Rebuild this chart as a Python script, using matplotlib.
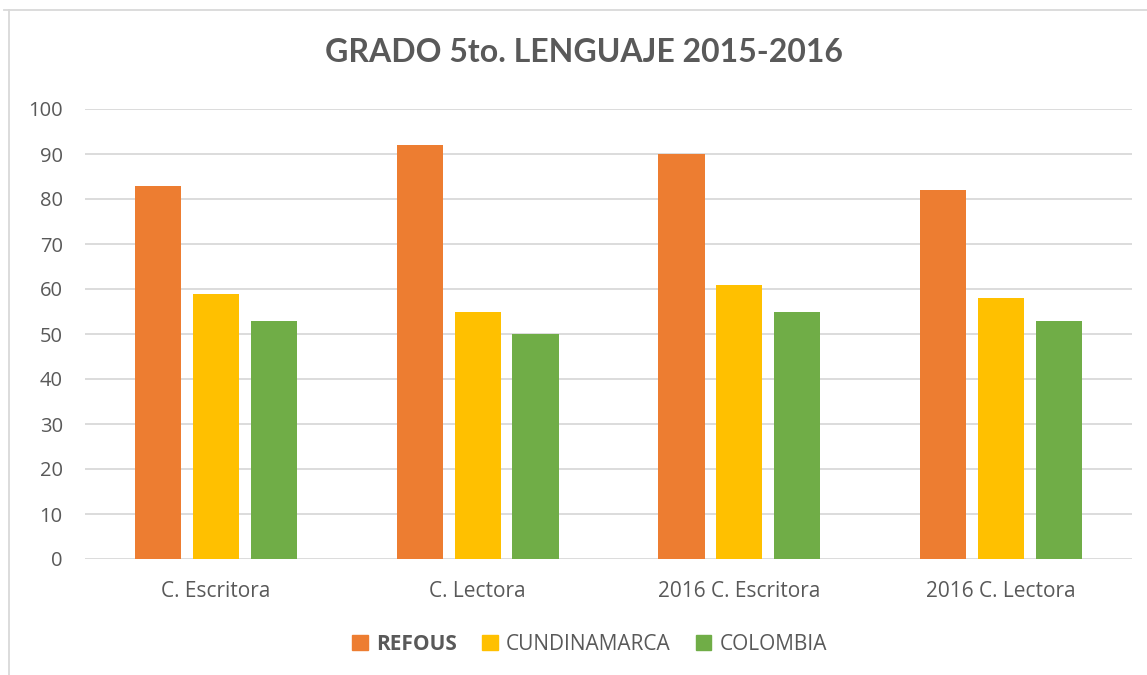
import matplotlib
matplotlib.use("Agg")
import matplotlib.pyplot as plt
import numpy as np
from matplotlib.lines import Line2D
from matplotlib.patches import Patch

categories = ["C. Escritora", "C. Lectora", "2016 C. Escritora", "2016 C. Lectora"]
series_names = ["REFOUS", "CUNDINAMARCA", "COLOMBIA"]
refous = [83, 92, 90, 82]
cundinamarca = [59, 55, 61, 58]
colombia = [53, 50, 55, 53]
colors = ["#ED7D31", "#FFC000", "#70AD47"]
yticks = list(range(0, 101, 10))

txt = "#595959"
plt.rcParams['font.family'] = ['Open Sans', 'DejaVu Sans']

fig = plt.figure(figsize=(11.47, 6.75), dpi=100)
ax = fig.add_axes([85/1147, 1-559/675, (1132-85)/1147, 450/675])

x = np.arange(len(categories))
w = 0.176
step = 0.221
for i, (vals, c) in enumerate(zip([refous, cundinamarca, colombia], colors)):
    ax.bar(x + (i-1)*step, vals, width=w, color=c, zorder=3)

ax.set_xlim(-0.5, len(categories)-0.5)
ax.set_ylim(0, 100)
ax.set_yticks(yticks)
ax.set_xticks(x)
ax.set_xticklabels(categories)
ax.grid(axis='y', color='#D9D9D9', linewidth=1.3, zorder=0)
for s in ax.spines.values():
    s.set_visible(False)
ax.tick_params(axis='both', length=0, colors=txt)
ax.tick_params(axis='x', pad=16, labelsize=15)
ax.tick_params(axis='y', pad=16, labelsize=14.5)

fig.text(0.509, 1-52/675, "GRADO 5to. LENGUAJE 2015-2016", ha='center', va='center',
         fontsize=23, fontweight='bold', color=txt, family=['Lato', 'DejaVu Sans'])

handles = [Patch(color=c) for c in colors]
leg = fig.legend(handles, series_names, loc='center', bbox_to_anchor=(0.514, 1-644/675),
                 ncol=3, frameon=False, fontsize=15, handlelength=0.75, handleheight=0.75,
                 handletextpad=0.4, columnspacing=1.2, labelcolor=txt)
leg.get_texts()[0].set_fontweight('bold')

fig.add_artist(Line2D([4/1147, 1], [1-10/675, 1-10/675], color='#D9D9D9', lw=1.3))
fig.add_artist(Line2D([9/1147, 9/1147], [0, 1-10/675], color='#D9D9D9', lw=1.3))

fig.savefig("out.png", dpi=100, facecolor='white')
